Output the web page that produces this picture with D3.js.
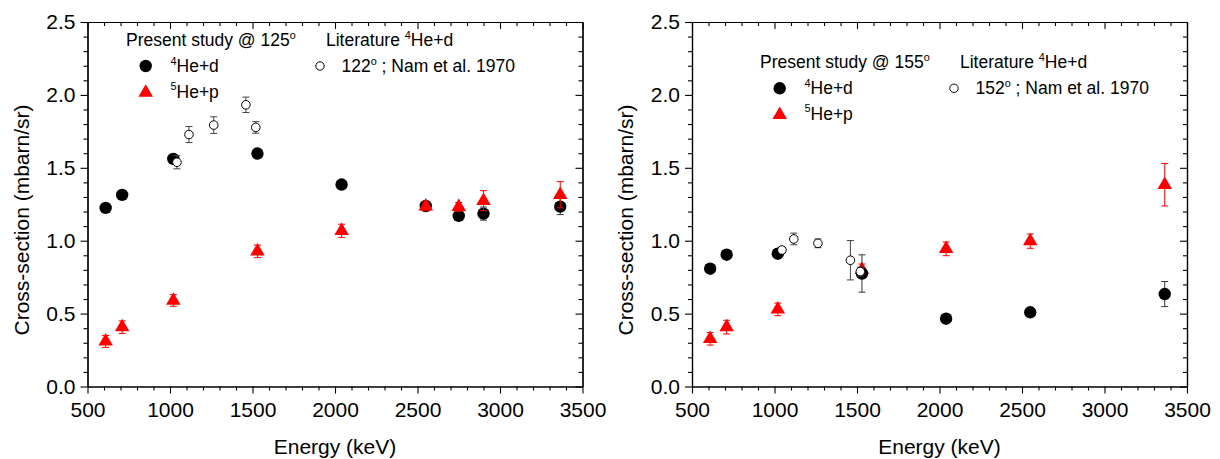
<!DOCTYPE html>
<html>
<head>
<meta charset="utf-8">
<script src="https://cdn.jsdelivr.net/npm/d3@7"></script>
<style>
  html, body { margin: 0; padding: 0; background: #fff; }
  svg { display: block; }
</style>
</head>
<body>
<svg id="chart" width="1220" height="459"></svg>
<script>
// ---------------- data ----------------
const xTickLabels = [500, 1000, 1500, 2000, 2500, 3000, 3500];
const yTickLabels = [0.0, 0.5, 1.0, 1.5, 2.0, 2.5];

// Left panel: present study @ 125 deg
const energyLeft = [610, 710, 1020, 1530, 2040, 2550, 2750, 2900, 3365];
const he4dLeft    = [1.225, 1.314, 1.561, 1.598, 1.385, 1.238, 1.170, 1.186, 1.234];
const he4dLeftErr = [0.02, 0.03, 0.03, 0.02, 0.02, 0.03, 0.03, 0.045, 0.055];
const he5pLeft    = [0.309, 0.407, 0.590, 0.927, 1.068, 1.235, 1.232, 1.274, 1.315];
const he5pLeftErr = [0.041, 0.043, 0.040, 0.043, 0.045, 0.030, 0.030, 0.069, 0.090];
// Literature 122 deg, Nam et al. 1970
const litEnergyLeft = [1042, 1115, 1265, 1460, 1520];
const litLeft       = [1.538, 1.728, 1.793, 1.932, 1.777];
const litLeftErr    = [0.045, 0.055, 0.057, 0.053, 0.040];

// Right panel: present study @ 155 deg
const energyRight = [610, 710, 1020, 1530, 2040, 2550, 3365];
const he4dRight    = [0.808, 0.904, 0.911, 0.775, 0.465, 0.509, 0.634];
const he4dRightErr = [0.02, 0.02, 0.03, 0.128, 0.02, 0.02, 0.086];
const he5pRight    = [0.327, 0.407, 0.529, 0.800, 0.944, 0.997, 1.384];
const he5pRightErr = [0.043, 0.047, 0.043, 0.040, 0.047, 0.049, 0.146];
// Literature 152 deg, Nam et al. 1970
const litEnergyRight = [1045, 1117, 1263, 1460, 1520];
const litRight       = [0.936, 1.012, 0.982, 0.866, 0.788];
const litRightErr    = [0.02, 0.04, 0.03, 0.135, 0.03];

const angles = ["125", "155"];
const litAngles = ["122", "152"];

// ---------------- drawing ----------------
const FONT = "'Liberation Sans', Arial, Helvetica, sans-serif";
const RED = "#ff0000";
const svg = d3.select("#chart");

const zip = (E, V, Er) => E.map((e, i) => ({e, v: V[i], err: Er[i]}));

const panels = [
  { x0: 87.5, x1: 582.5, titleX: 29, legDx: 0, legDy: 0,
    he4: zip(energyLeft, he4dLeft, he4dLeftErr),
    he5: zip(energyLeft, he5pLeft, he5pLeftErr),
    lit: zip(litEnergyLeft, litLeft, litLeftErr),
    order: ["he4", "he5", "lit"], angle: angles[0], litAngle: litAngles[0] },
  { x0: 692, x1: 1187, titleX: 633, legDx: 634, legDy: 22.3,
    he4: zip(energyRight, he4dRight, he4dRightErr),
    he5: zip(energyRight, he5pRight, he5pRightErr),
    lit: zip(litEnergyRight, litRight, litRightErr),
    order: ["he5", "he4", "lit"], angle: angles[1], litAngle: litAngles[1] }
];

const Y0 = 386.5, Y1 = 22;
const y = d3.scaleLinear().domain([0, 2.5]).range([Y0, Y1]);
const xMinor = d3.range(500, 3501, 100).filter(d => d % 500 !== 0);
const yMinor = d3.range(1, 25).map(d => d / 10).filter(d => Math.round(d * 10) % 5 !== 0);

function styleAxis(g) {
  g.select(".domain").attr("stroke", "#000").attr("stroke-width", 1.2);
  g.selectAll(".tick line").attr("stroke", "#000").attr("stroke-width", 1.1);
  g.selectAll("text").attr("font-family", FONT).attr("font-size", 21).attr("fill", "#000");
}

// triangle with its centroid at the origin
const triPath = (w, h) => `M0,${-2*h/3}L${w/2},${h/3}L${-w/2},${h/3}Z`;

function supText(sel, parts, size) {
  parts.forEach(([t, sup], i) => {
    const prevSup = i > 0 && parts[i - 1][1];
    const ts = sel.append("tspan").text(t);
    if (sup) ts.attr("font-size", size * 0.62).attr("dy", -size * 0.42);
    else if (prevSup) ts.attr("dy", size * 0.42);
  });
}

panels.forEach(p => {
  const x = d3.scaleLinear().domain([500, 3500]).range([p.x0, p.x1]);
  const g = svg.append("g");

  // axes
  g.append("g").attr("transform", `translate(0,${Y0})`)
    .call(d3.axisBottom(x).tickValues(xTickLabels).tickSize(7).tickSizeOuter(0).tickPadding(9).tickFormat(d3.format("d")))
    .call(styleAxis);
  g.append("g").attr("transform", `translate(0,${Y0})`)
    .call(d3.axisBottom(x).tickValues(xMinor).tickSize(4).tickSizeOuter(0).tickFormat(""))
    .call(styleAxis);
  g.append("g").attr("transform", `translate(0,${Y1})`)
    .call(d3.axisTop(x).tickValues(xTickLabels).tickSize(-7).tickSizeOuter(0).tickFormat(""))
    .call(styleAxis);
  g.append("g").attr("transform", `translate(0,${Y1})`)
    .call(d3.axisTop(x).tickValues(xMinor).tickSize(-4).tickSizeOuter(0).tickFormat(""))
    .call(styleAxis);
  g.append("g").attr("transform", `translate(${p.x0},0)`)
    .call(d3.axisLeft(y).tickValues(yTickLabels).tickSize(7).tickSizeOuter(0).tickPadding(5).tickFormat(d3.format(".1f")))
    .call(styleAxis);
  g.append("g").attr("transform", `translate(${p.x0},0)`)
    .call(d3.axisLeft(y).tickValues(yMinor).tickSize(4).tickSizeOuter(0).tickFormat(""))
    .call(styleAxis);
  g.append("g").attr("transform", `translate(${p.x1},0)`)
    .call(d3.axisRight(y).tickValues(yTickLabels).tickSize(-7).tickSizeOuter(0).tickFormat(""))
    .call(styleAxis);
  g.append("g").attr("transform", `translate(${p.x1},0)`)
    .call(d3.axisRight(y).tickValues(yMinor).tickSize(-4).tickSizeOuter(0).tickFormat(""))
    .call(styleAxis);

  // axis titles
  g.append("text").attr("x", (p.x0 + p.x1) / 2).attr("y", 453.5)
    .attr("text-anchor", "middle").attr("font-family", FONT).attr("font-size", 21)
    .text("Energy (keV)");
  g.append("text").attr("transform", `translate(${p.titleX},220) rotate(-90)`)
    .attr("text-anchor", "middle").attr("font-family", FONT).attr("font-size", 21)
    .text("Cross-section (mbarn/sr)");

  const drawErr = (data, color, sw) => {
    const eg = g.append("g").attr("stroke", color).attr("stroke-width", sw).attr("fill", "none");
    data.forEach(d => {
      const cx = x(d.e), yt = y(d.v + d.err), yb = y(d.v - d.err);
      eg.append("line").attr("x1", cx).attr("x2", cx).attr("y1", yt).attr("y2", yb);
      eg.append("line").attr("x1", cx - 3.5).attr("x2", cx + 3.5).attr("y1", yt).attr("y2", yt);
      eg.append("line").attr("x1", cx - 3.5).attr("x2", cx + 3.5).attr("y1", yb).attr("y2", yb);
    });
  };
  const drawers = {
    he4: () => {
      drawErr(p.he4, "#333", 1);
      g.append("g").selectAll("circle").data(p.he4).join("circle")
        .attr("cx", d => x(d.e)).attr("cy", d => y(d.v)).attr("r", 6.2).attr("fill", "#000");
    },
    he5: () => {
      drawErr(p.he5, RED, 1);
      g.append("g").selectAll("path").data(p.he5).join("path")
        .attr("transform", d => `translate(${x(d.e)},${y(d.v)})`)
        .attr("d", triPath(14.5, 12.5)).attr("fill", RED);
    },
    lit: () => {
      drawErr(p.lit, "#444", 1);
      g.append("g").selectAll("circle").data(p.lit).join("circle")
        .attr("cx", d => x(d.e)).attr("cy", d => y(d.v)).attr("r", 4.3)
        .attr("fill", "#fff").attr("stroke", "#000").attr("stroke-width", 1);
    }
  };
  p.order.forEach(k => drawers[k]());

  // legend
  const L = g.append("g").attr("transform", `translate(${p.legDx},${p.legDy})`)
    .attr("font-family", FONT);
  const fs = 17.5;
  supText(L.append("text").attr("x", 126).attr("y", 46).attr("font-size", fs),
    [["Present study @ " + p.angle, false], ["o", true]], fs);
  supText(L.append("text").attr("x", 326).attr("y", 46).attr("font-size", fs),
    [["Literature ", false], ["4", true], ["He+d", false]], fs);
  L.append("circle").attr("cx", 145.7).attr("cy", 66).attr("r", 6.2).attr("fill", "#000");
  supText(L.append("text").attr("x", 170.5).attr("y", 72).attr("font-size", fs),
    [["4", true], ["He+d", false]], fs);
  L.append("path").attr("transform", "translate(145.7,92.6)").attr("d", triPath(14.5, 12.5)).attr("fill", RED);
  supText(L.append("text").attr("x", 170.5).attr("y", 97.5).attr("font-size", fs),
    [["5", true], ["He+p", false]], fs);
  L.append("circle").attr("cx", 320).attr("cy", 66).attr("r", 4.2)
    .attr("fill", "#fff").attr("stroke", "#000").attr("stroke-width", 1);
  supText(L.append("text").attr("x", 341.5).attr("y", 72).attr("font-size", fs),
    [[p.litAngle, false], ["o", true], [" ; Nam et al. 1970", false]], fs);
});
</script>
</body>
</html>
